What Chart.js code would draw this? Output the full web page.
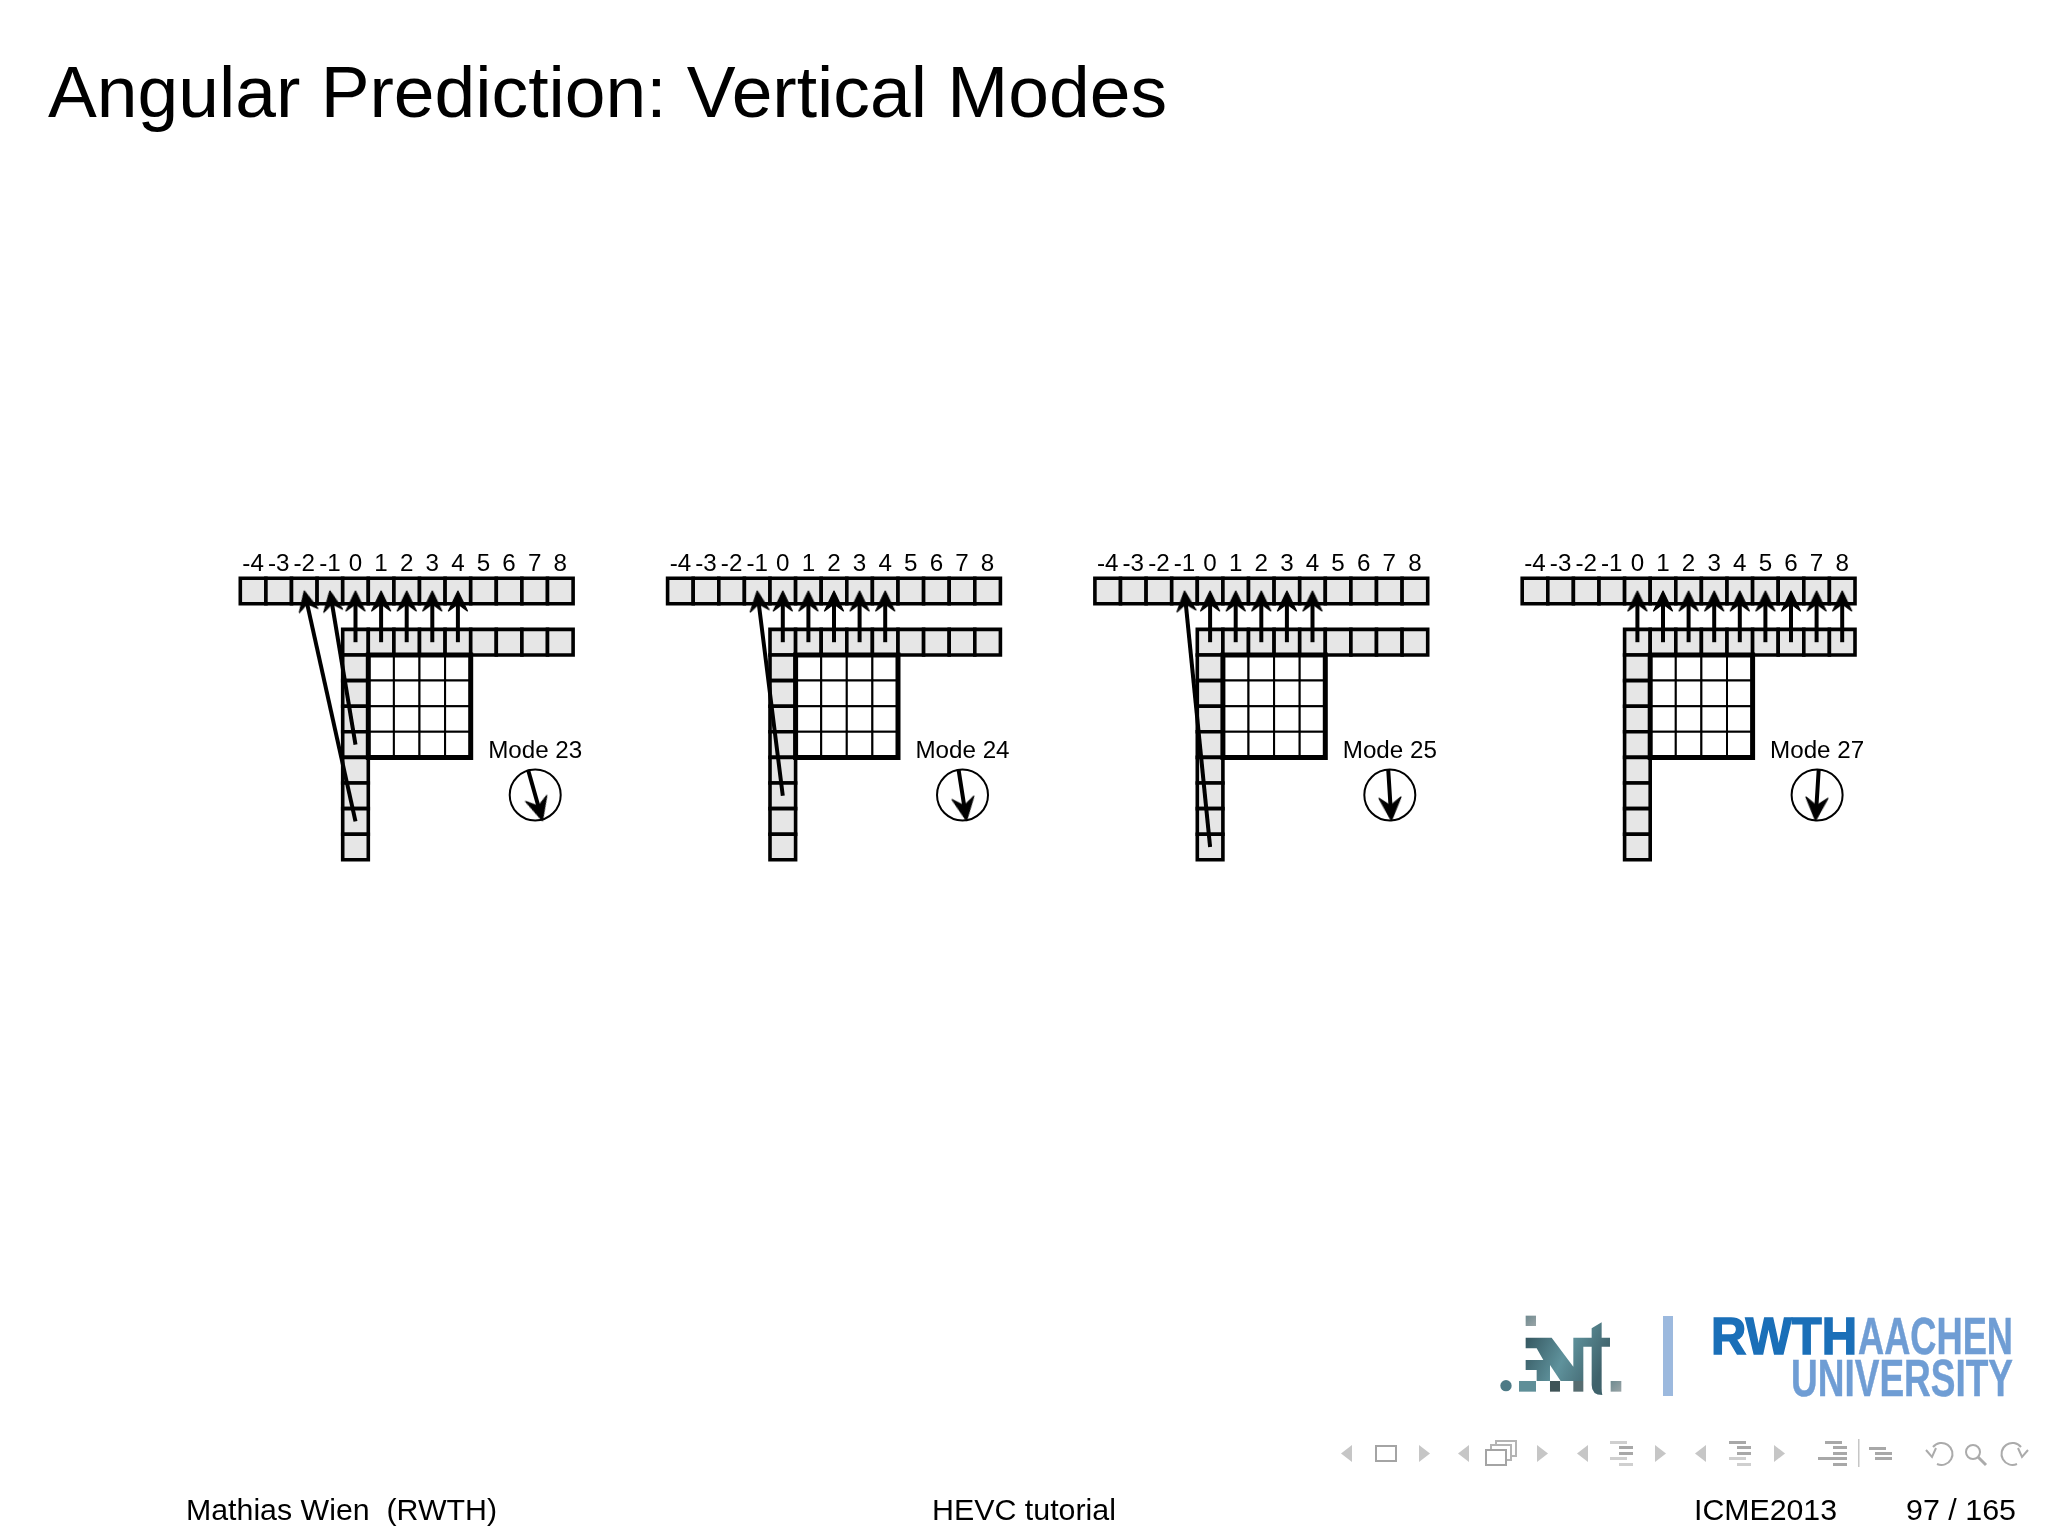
<!DOCTYPE html>
<html>
<head>
<meta charset="utf-8">
<title>Angular Prediction: Vertical Modes</title>
<script src="https://cdn.jsdelivr.net/npm/chart.js@4"></script>
<style>
  html, body { margin: 0; padding: 0; background: #fff; }
  #slide { position: relative; width: 2048px; height: 1536px; overflow: hidden; }
  #slide canvas, #slide svg { position: absolute; left: 0; top: 0; }
  text { font-family: "Liberation Sans", Arial, sans-serif; fill: #000; }
</style>
</head>
<body>
<div id="slide">
  <canvas id="chart" width="2048" height="1536"></canvas>
  <svg width="2048" height="1536" xmlns="http://www.w3.org/2000/svg">
    <defs>
      <linearGradient id="intFill" x1="0" y1="0" x2="1" y2="0.4">
        <stop offset="0" stop-color="#2f4f58"/>
        <stop offset="0.55" stop-color="#5f929c"/>
        <stop offset="1" stop-color="#3f626b"/>
      </linearGradient>
      <linearGradient id="intGrey" x1="0" y1="0" x2="1" y2="1">
        <stop offset="0" stop-color="#6f8a90"/>
        <stop offset="1" stop-color="#9aa5a7"/>
      </linearGradient>
    </defs>

    <text x="48" y="117" font-size="73" textLength="1119" lengthAdjust="spacingAndGlyphs">Angular Prediction: Vertical Modes</text>

    <!-- institute logo -->
    <g transform="translate(1490 1305) scale(0.3333)">
      <circle cx="48" cy="242" r="17" fill="#4d7a86"/>
      <rect x="87" y="228" width="51" height="32" fill="#5f8f98"/>
      <rect x="107" y="32" width="31" height="31" fill="url(#intGrey)"/>
      <rect x="180" y="228" width="30" height="32" fill="#3f5357"/>
      <rect x="250" y="228" width="30" height="32" fill="#566c70"/>
      <rect x="362" y="228" width="32" height="32" fill="url(#intGrey)"/>
      <path d="M107 98 H185 L250 185 V98 H305 V70 L335 52 V98 H360 V125 H335 V250 Q335 262 337 270 Q305 270 305 240 V125 H280 V228 H212 L180 180 V228 H140 V195 H107 V165 H160 L140 130 H107 Z" fill="url(#intFill)"/>
    </g>
    <rect x="1663" y="1316" width="10" height="80" fill="#9cb9de"/>
    <text x="1711" y="1354" font-size="52" font-weight="700" style="fill:#1a6fb8;stroke:#1a6fb8;stroke-width:1.5" textLength="146" lengthAdjust="spacingAndGlyphs">RWTH</text>
    <text x="1858" y="1354" font-size="52" font-weight="700" style="fill:#6f9dd4;stroke:#6f9dd4;stroke-width:0.5" textLength="155" lengthAdjust="spacingAndGlyphs">AACHEN</text>
    <text x="1791" y="1396" font-size="52" font-weight="700" style="fill:#6f9dd4;stroke:#6f9dd4;stroke-width:0.5" textLength="222" lengthAdjust="spacingAndGlyphs">UNIVERSITY</text>

    <!-- beamer navigation symbols -->
    <g fill="#c6c6c6">
      <path d="M1352 1445 V1462 L1341 1453.5 Z"/>
      <path d="M1419 1445 V1462 L1430 1453.5 Z"/>
      <path d="M1469 1445 V1462 L1458 1453.5 Z"/>
      <path d="M1537 1445 V1462 L1548 1453.5 Z"/>
      <path d="M1588 1445 V1462 L1577 1453.5 Z"/>
      <path d="M1655 1445 V1462 L1666 1453.5 Z"/>
      <path d="M1706 1445 V1462 L1695 1453.5 Z"/>
      <path d="M1774 1445 V1462 L1785 1453.5 Z"/>
    </g>
    <g fill="#fff" stroke="#a4a4a4" stroke-width="2">
      <rect x="1376" y="1446" width="20" height="15"/>
      <rect x="1496" y="1441" width="20" height="15" stroke="#b4b4b4"/>
      <rect x="1491" y="1445" width="20" height="15" stroke="#b4b4b4"/>
      <rect x="1486" y="1450" width="20" height="15"/>
    </g>
    <g fill="#cfcfcf">
      <rect x="1610" y="1441" width="17" height="3"/><rect x="1619" y="1446" width="14" height="3" fill="#a8a8a8"/>
      <rect x="1619" y="1452" width="14" height="3" fill="#a8a8a8"/><rect x="1610" y="1457" width="17" height="3"/>
      <rect x="1619" y="1463" width="14" height="3"/>
      <rect x="1729" y="1441" width="17" height="3" fill="#a8a8a8"/><rect x="1737" y="1446" width="14" height="3" fill="#a8a8a8"/>
      <rect x="1737" y="1452" width="14" height="3" fill="#a8a8a8"/><rect x="1729" y="1457" width="17" height="3"/>
      <rect x="1737" y="1463" width="14" height="3"/>
    </g>
    <g fill="#a8a8a8">
      <rect x="1825" y="1441" width="17" height="3"/><rect x="1833" y="1446" width="14" height="3"/>
      <rect x="1833" y="1452" width="14" height="3"/><rect x="1818" y="1457" width="29" height="3"/>
      <rect x="1833" y="1463" width="14" height="3"/>
      <rect x="1858" y="1439" width="1.5" height="28" fill="#c6c6c6"/>
      <rect x="1869" y="1447" width="17" height="3"/><rect x="1875" y="1452" width="17" height="3"/>
      <rect x="1875" y="1457" width="17" height="3"/>
    </g>
    <g fill="none" stroke="#ababab" stroke-width="2">
      <path d="M1933 1447 A11 11 0 1 1 1937 1464"/>
      <path d="M1926 1450 L1932 1457 L1936 1448" />
      <circle cx="1973" cy="1452" r="7"/>
      <path d="M1978 1457 L1986 1465" stroke-width="3"/>
      <path d="M2021 1447 A11 11 0 1 0 2017 1464"/>
      <path d="M2028 1450 L2022 1457 L2018 1448"/>
    </g>

    <text x="186" y="1520" font-size="29" xml:space="preserve" textLength="311" lengthAdjust="spacingAndGlyphs">Mathias Wien  (RWTH)</text>
    <text x="932" y="1520" font-size="29" textLength="184" lengthAdjust="spacingAndGlyphs">HEVC tutorial</text>
    <text x="1694" y="1520" font-size="29" textLength="143" lengthAdjust="spacingAndGlyphs">ICME2013</text>
    <text x="1906" y="1520" font-size="29" textLength="110" lengthAdjust="spacingAndGlyphs">97 / 165</text>
  </svg>
</div>

<script>
// reference sample indices, one cell = one axis unit
const refLabels = [-4, -3, -2, -1, 0, 1, 2, 3, 4, 5, 6, 7, 8];
const upperRefs = [0, 1, 2, 3, 4, 5, 6, 7, 8];
const leftRefs = [3, 4, 5, 6, 7, 8, 9, 10];
const blockCols = [1, 2, 3, 4];
const blockRows = [3, 4, 5, 6];

// one entry per panel
const modeNames = ["Mode 23", "Mode 24", "Mode 25", "Mode 27"];
const modeAngles = [-9, -5, -2, 2];
const directTargets = [
  [0, 1, 2, 3, 4],
  [0, 1, 2, 3, 4],
  [0, 1, 2, 3, 4],
  [0, 1, 2, 3, 4, 5, 6, 7, 8],
];
const projectedTargets = [[-2, -1], [-1], [-1], []];
const projectedSources = [[9, 6], [8], [10], []];

// page geometry
const CELL = 25.6;
const ZERO_X = 355.5;
const ZERO_Y = 591;
const PANEL_STEP = 427.3 / CELL;
const UPPER_ROW = 2;
const DIAL_X = 7.02;
const DIAL_Y = 7.97;

// arrow head with its tip a little above the canvas centre
function makeHead(len, half, notch, ahead) {
  const size = 2 * (len + ahead + 6);
  const c = document.createElement("canvas");
  c.width = size;
  c.height = size;
  const g = c.getContext("2d");
  const m = size / 2;
  g.beginPath();
  g.moveTo(m, m - ahead);
  g.lineTo(m + half, m - ahead + len);
  g.lineTo(m, m - ahead + notch);
  g.lineTo(m - half, m - ahead + len);
  g.closePath();
  g.fillStyle = "#000";
  g.strokeStyle = "#000";
  g.lineWidth = 1.2;
  g.lineJoin = "round";
  g.fill();
  g.stroke();
  return c;
}

const bigHead = makeHead(20, 9.5, 13, 4);
const dialHead = makeHead(23, 11, 15, 4);

function arrow(x0, y0, x1, y1, head, width) {
  const dx = x1 - x0;
  const dy = y1 - y0;
  const len = Math.hypot(dx, dy);
  // pull the shaft back so the head tip lands on the target
  const inset = 4 / CELL;
  return {
    data: [{ x: x0, y: y0 }, { x: x1 - (dx / len) * inset, y: y1 - (dy / len) * inset }],
    showLine: true,
    borderColor: "#000",
    borderWidth: width,
    pointStyle: head,
    pointRadius: [0, 1],
    pointRotation: [0, (Math.atan2(dx, -dy) * 180) / Math.PI],
  };
}

function cells(points, fill, line, lineWidth) {
  return {
    data: points,
    showLine: false,
    pointStyle: "rect",
    pointRadius: CELL / Math.SQRT2,
    pointBackgroundColor: fill,
    pointBorderColor: line,
    pointBorderWidth: lineWidth,
  };
}

const arrows = [];
const outlines = [];
const dials = [];
const blocks = [];
const refs = [];

modeNames.forEach((name, p) => {
  const ox = p * PANEL_STEP;
  directTargets[p].forEach((t) => {
    arrows.push(arrow(ox + t, UPPER_ROW, ox + t, 0, bigHead, 4));
  });
  projectedTargets[p].forEach((t, i) => {
    arrows.push(arrow(ox, projectedSources[p][i], ox + t, 0, bigHead, 4));
  });

  const cx = ox + DIAL_X;
  const slope = modeAngles[p] / 32;
  arrows.push(arrow(cx + slope, DIAL_Y - 1, cx - slope, DIAL_Y + 1, dialHead, 4));
  dials.push({
    data: [{ x: cx, y: DIAL_Y }],
    showLine: false,
    pointStyle: "circle",
    pointRadius: 25.5,
    pointBackgroundColor: "#fff",
    pointBorderColor: "#000",
    pointBorderWidth: 2,
  });

  const l = ox + blockCols[0] - 0.5;
  const r = ox + blockCols[blockCols.length - 1] + 0.5;
  const t = blockRows[0] - 0.5;
  const b = blockRows[blockRows.length - 1] + 0.5;
  outlines.push({
    data: [{ x: l, y: t }, { x: r, y: t }, { x: r, y: b }, { x: l, y: b }, { x: l, y: t }],
    showLine: true,
    borderColor: "#000",
    borderWidth: 5,
    borderJoinStyle: "miter",
    borderCapStyle: "square",
    pointRadius: 0,
    fill: false,
  });

  blocks.push(cells(
    blockRows.flatMap((y) => blockCols.map((x) => ({ x: ox + x, y }))),
    "#fff", "#000", 2
  ));
  refs.push(cells(
    refLabels.map((x) => ({ x: ox + x, y: 0 }))
      .concat(upperRefs.map((x) => ({ x: ox + x, y: UPPER_ROW })))
      .concat(leftRefs.map((y) => ({ x: ox, y }))),
    "#e6e6e6", "#000", 3.6
  ));
});

// texts that sit on the panel scales
const panelText = {
  id: "panelText",
  afterDatasetsDraw(chart) {
    const { ctx, scales } = chart;
    ctx.save();
    ctx.fillStyle = "#000";
    ctx.textAlign = "center";
    ctx.textBaseline = "alphabetic";
    ctx.font = '24.2px "Liberation Sans", Arial, sans-serif';
    modeNames.forEach((name, p) => {
      const ox = p * PANEL_STEP;
      refLabels.forEach((v) => {
        ctx.fillText(String(v), scales.x.getPixelForValue(ox + v), scales.y.getPixelForValue(-0.797));
      });
      ctx.fillText(name, scales.x.getPixelForValue(ox + DIAL_X), scales.y.getPixelForValue(6.51));
    });
    ctx.restore();
  },
};

new Chart(document.getElementById("chart"), {
  type: "scatter",
  data: { datasets: [...arrows, ...outlines, ...dials, ...blocks, ...refs] },
  options: {
    responsive: false,
    devicePixelRatio: 1,
    animation: false,
    events: [],
    clip: false,
    layout: { padding: 0, autoPadding: false },
    plugins: { legend: { display: false }, tooltip: { enabled: false }, title: { display: false } },
    scales: {
      x: { type: "linear", display: false, min: -ZERO_X / CELL, max: (2048 - ZERO_X) / CELL },
      y: { type: "linear", display: false, reverse: true, min: -ZERO_Y / CELL, max: (1536 - ZERO_Y) / CELL },
    },
  },
  plugins: [panelText],
});
</script>
</body>
</html>
